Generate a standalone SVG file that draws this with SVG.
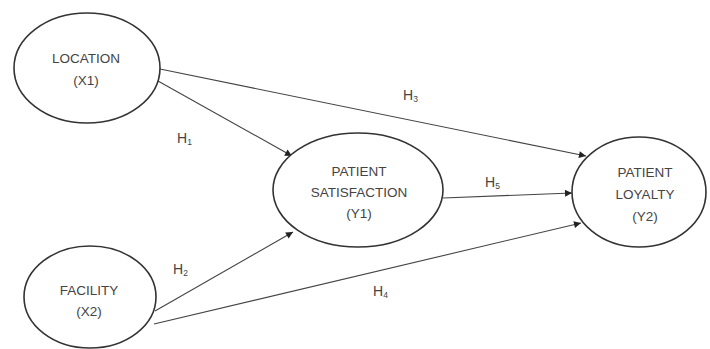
<svg xmlns="http://www.w3.org/2000/svg" width="710" height="349" viewBox="0 0 710 349">
<defs>
<marker id="arr" viewBox="0 0 10 10" refX="10" refY="5" markerWidth="8" markerHeight="7" markerUnits="userSpaceOnUse" orient="auto">
<path d="M0,0 L10,5 L0,10 z" fill="#222"/>
</marker>
<style>
.node ellipse{fill:#fff;stroke:#333;stroke-width:1.6}
.node text{font-family:"Liberation Sans",Arial,sans-serif;font-size:13.5px;fill:#444;text-anchor:middle}
.edges line{stroke:#444;stroke-width:1.1;marker-end:url(#arr)}
.lbl{font-family:"Liberation Sans",Arial,sans-serif;font-size:14px;fill:#444}
.sub{font-size:8.5px}
</style>
</defs>
<rect width="710" height="349" fill="#fff"/>
<g class="edges">
<line x1="160" y1="69" x2="586" y2="156"/>
<line x1="158" y1="81" x2="292" y2="156"/>
<line x1="155" y1="311" x2="293" y2="232"/>
<line x1="154" y1="324" x2="581" y2="223"/>
<line x1="443" y1="198" x2="572" y2="193"/>
<text class="lbl" x="403" y="100">H<tspan class="sub" dy="2">3</tspan></text>
<text class="lbl" x="177" y="143">H<tspan class="sub" dy="2">1</tspan></text>
<text class="lbl" x="485" y="187">H<tspan class="sub" dy="2">5</tspan></text>
<text class="lbl" x="173" y="274">H<tspan class="sub" dy="2">2</tspan></text>
<text class="lbl" x="373" y="296">H<tspan class="sub" dy="2">4</tspan></text>
</g>
<g id="location" class="node">
<ellipse cx="87" cy="68" rx="73" ry="55"/>
<text x="86" y="63">LOCATION</text>
<text x="86" y="85">(X1)</text>
</g>
<g id="facility" class="node">
<ellipse cx="90" cy="297" rx="66" ry="51"/>
<text x="89" y="295">FACILITY</text>
<text x="89" y="316">(X2)</text>
</g>
<g id="satisfaction" class="node">
<ellipse cx="358" cy="190" rx="85" ry="57"/>
<text x="359" y="176">PATIENT</text>
<text x="359" y="197">SATISFACTION</text>
<text x="359" y="218">(Y1)</text>
</g>
<g id="loyalty" class="node">
<ellipse cx="639" cy="192" rx="67" ry="55"/>
<text x="645" y="177">PATIENT</text>
<text x="645" y="199">LOYALTY</text>
<text x="645" y="221">(Y2)</text>
</g>
</svg>
